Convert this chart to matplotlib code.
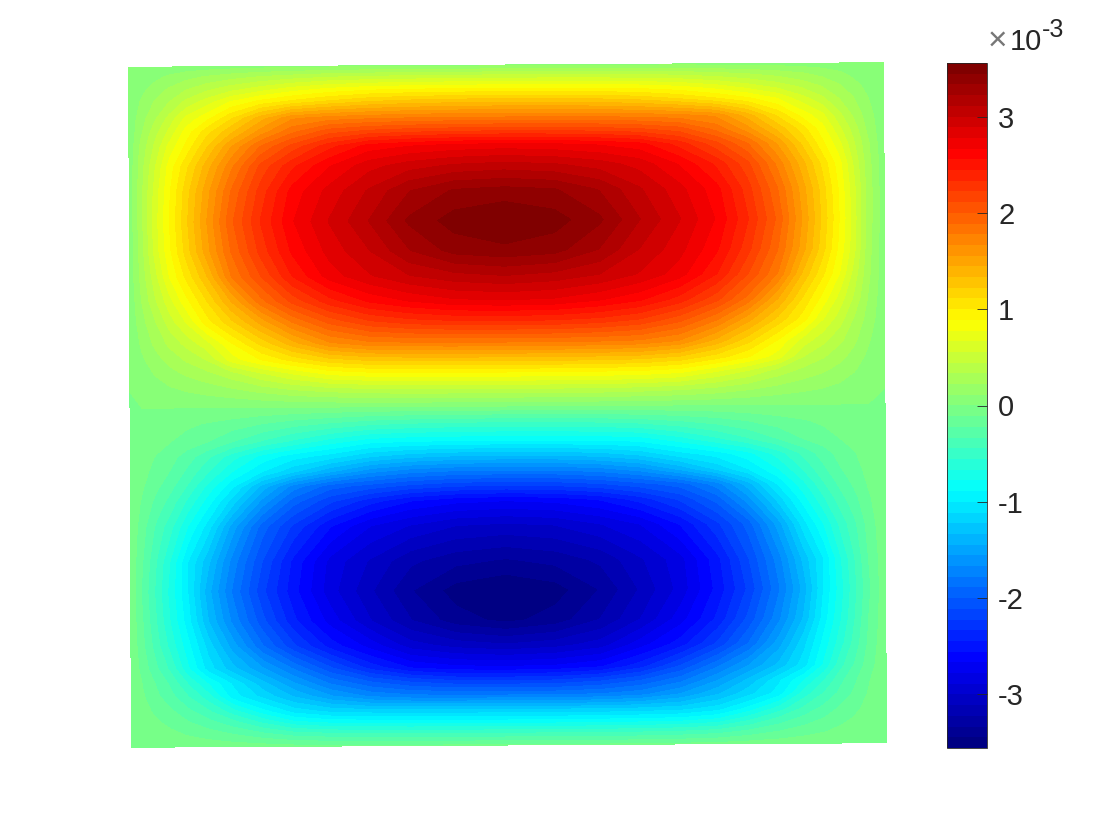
import numpy as np
import matplotlib
matplotlib.use('Agg')
import matplotlib.pyplot as plt
from matplotlib.colors import LinearSegmentedColormap

plt.rcParams['font.family'] = ['Liberation Sans', 'DejaVu Sans']
plt.rcParams['axes.unicode_minus'] = False

# 读图位置 (像素), 左半部分, 右半部分按中线对称
x_left = [130, 142, 156, 170, 187, 207, 232, 262, 293, 330, 370, 410, 455, 505]
x_right = [555, 600, 640, 680, 717, 748, 778, 803, 823, 840, 854, 868, 885]
y_top = [65, 75, 88, 100, 117, 130, 145, 165, 190, 220, 250, 275, 300, 320, 342, 358, 372, 390, 406]
y_bottom = [422, 440, 455, 470, 485, 500, 525, 560, 590, 620, 645, 667, 682, 695, 710, 720, 733, 745]

# 上半部分数值, 单位 1e-3
field_top = [
    [.00, .01, .02, .03, .04, .05, .06, .07, .07, .08, .08, .08, .08, .08],
    [.00, .04, .08, .13, .18, .23, .28, .33, .37, .41, .43, .44, .45, .45],
    [.01, .08, .16, .24, .33, .42, .52, .62, .72, .80, .85, .87, .88, .89],
    [.01, .12, .23, .33, .47, .60, .78, .92, 1.02, 1.12, 1.20, 1.24, 1.26, 1.27],
    [.02, .17, .32, .48, .70, .85, 1.10, 1.40, 1.65, 1.72, 1.75, 1.77, 1.78, 1.78],
    [.02, .20, .40, .58, .82, 1.05, 1.30, 1.60, 1.85, 2.05, 2.13, 2.17, 2.19, 2.20],
    [.02, .25, .47, .70, .92, 1.20, 1.55, 1.90, 2.15, 2.40, 2.60, 2.66, 2.70, 2.72],
    [.03, .28, .55, .82, 1.08, 1.38, 1.75, 2.15, 2.42, 2.66, 2.85, 2.95, 3.02, 3.05],
    [.03, .30, .60, .87, 1.17, 1.50, 1.90, 2.28, 2.60, 2.82, 3.02, 3.22, 3.35, 3.38],
    [.03, .30, .62, .89, 1.20, 1.55, 1.98, 2.35, 2.66, 2.90, 3.12, 3.36, 3.50, 3.56],
    [.03, .28, .60, .86, 1.16, 1.50, 1.90, 2.27, 2.58, 2.82, 3.00, 3.22, 3.38, 3.42],
    [.03, .26, .52, .78, 1.03, 1.32, 1.78, 2.12, 2.45, 2.72, 2.88, 3.00, 3.08, 3.12],
    [.02, .22, .43, .62, .85, 1.10, 1.45, 1.85, 2.15, 2.40, 2.58, 2.68, 2.76, 2.78],
    [.02, .18, .33, .50, .68, .95, 1.20, 1.50, 1.80, 2.05, 2.22, 2.30, 2.34, 2.35],
    [.01, .13, .25, .36, .48, .62, .88, 1.15, 1.40, 1.65, 1.75, 1.77, 1.78, 1.78],
    [.01, .09, .18, .26, .35, .45, .72, .90, 1.05, 1.20, 1.27, 1.29, 1.30, 1.30],
    [.01, .06, .12, .18, .24, .30, .40, .55, .68, .82, .87, .88, .89, .89],
    [.00, .03, .05, .08, .11, .14, .18, .24, .30, .35, .38, .40, .40, .40],
    [.00, .00, .00, .00, .00, .00, .00, .00, .00, .00, .00, .00, .00, .00],
]

# 下半部分数值, 单位 1e-3
field_bottom = [
    [.00, -.02, -.04, -.06, -.09, -.12, -.16, -.22, -.28, -.34, -.40, -.43, -.45, -.45],
    [.00, -.03, -.07, -.11, -.16, -.22, -.33, -.46, -.58, -.72, -.84, -.87, -.88, -.89],
    [-.01, -.06, -.12, -.18, -.28, -.42, -.62, -.82, -.95, -1.05, -1.20, -1.28, -1.32, -1.33],
    [-.01, -.08, -.15, -.23, -.36, -.54, -.78, -1.00, -1.20, -1.42, -1.62, -1.72, -1.77, -1.78],
    [-.01, -.10, -.20, -.30, -.46, -.70, -.98, -1.38, -1.72, -1.95, -2.05, -2.14, -2.20, -2.22],
    [-.02, -.13, -.26, -.38, -.58, -.83, -1.17, -1.60, -1.95, -2.20, -2.40, -2.55, -2.63, -2.66],
    [-.02, -.18, -.36, -.52, -.78, -1.05, -1.50, -1.95, -2.25, -2.55, -2.78, -2.90, -3.00, -3.03],
    [-.03, -.22, -.45, -.68, -1.00, -1.30, -1.72, -2.12, -2.48, -2.82, -3.02, -3.20, -3.30, -3.35],
    [-.03, -.25, -.48, -.72, -1.00, -1.40, -1.80, -2.20, -2.52, -2.85, -3.10, -3.33, -3.50, -3.56],
    [-.03, -.22, -.45, -.68, -.95, -1.32, -1.70, -2.08, -2.42, -2.72, -3.00, -3.22, -3.40, -3.48],
    [-.02, -.20, -.40, -.60, -.85, -1.15, -1.50, -1.88, -2.20, -2.50, -2.72, -2.95, -3.05, -3.10],
    [-.02, -.16, -.32, -.48, -.76, -1.05, -1.30, -1.55, -1.80, -2.10, -2.38, -2.57, -2.64, -2.66],
    [-.01, -.12, -.24, -.36, -.56, -.78, -1.02, -1.30, -1.55, -1.80, -1.98, -2.10, -2.17, -2.18],
    [-.01, -.10, -.20, -.30, -.44, -.62, -.95, -1.15, -1.35, -1.55, -1.70, -1.76, -1.78, -1.78],
    [-.01, -.07, -.14, -.20, -.30, -.42, -.62, -.85, -1.05, -1.15, -1.18, -1.20, -1.20, -1.20],
    [.00, -.05, -.10, -.15, -.22, -.30, -.42, -.60, -.78, -.85, -.87, -.88, -.89, -.89],
    [.00, -.03, -.05, -.08, -.12, -.16, -.22, -.30, -.38, -.42, -.44, -.45, -.45, -.45],
    [.00, -.01, -.02, -.02, -.03, -.04, -.05, -.06, -.08, -.09, -.10, -.10, -.10, -.10],
]

cbar_ticks = [-3, -2, -1, 0, 1, 2, 3]
vmin, vmax = -3.56, 3.56

# MATLAB 的 jet, 和 matplotlib 自带的拐点不一样
jet_stops = [(0, (0, 0, .5156)), (1 / 8, (0, 0, 1)), (3 / 8, (0, 1, 1)),
             (5 / 8, (1, 1, 0)), (7 / 8, (1, 0, 0)), (1, (.5, 0, 0))]
jet = LinearSegmentedColormap.from_list('matlab_jet', jet_stops, N=64)

W, H = 1120, 840
fig = plt.figure(figsize=(W / 100, H / 100), dpi=100)

ax = fig.add_axes([0, 0, 1, 1])
half = np.array(field_top + field_bottom)
z = np.hstack([half, half[:, -2::-1]])
X, Y = np.meshgrid(x_left + x_right, y_top + y_bottom)
# 图形有一点点倾斜
X2 = X + (Y - 405) * 0.004
Y2 = Y - (X - 507) * 0.006

levels = np.linspace(vmin, vmax, 65)
cf = ax.contourf(X2, Y2, z, levels=levels, cmap=jet, vmin=vmin, vmax=vmax)
ax.set_xlim(0, W)
ax.set_ylim(H, 0)
ax.axis('off')

cax = fig.add_axes([947 / W, 1 - 748 / H, 40 / W, 685 / H])
cb = fig.colorbar(cf, cax=cax, ticks=cbar_ticks)
cb.ax.tick_params(direction='in', length=7, width=0.6, labelsize=21, pad=8,
                  color='#262626', labelcolor='#262626')
cb.ax.set_yticklabels([str(t) for t in cbar_ticks])
cb.outline.set_linewidth(0.6)
cb.outline.set_edgecolor('#262626')
cb.ax.minorticks_off()

# 色标上方的倍率
fig.text(988 / W, 1 - 50 / H, '\u00d7', fontsize=24, color='#777777', ha='left', va='baseline')
fig.text(1010 / W, 1 - 50 / H, '10', fontsize=21, color='#262626', ha='left', va='baseline')
fig.text(1042 / W, 1 - 37 / H, '-3', fontsize=18, color='#262626', ha='left', va='baseline')

fig.savefig('out.png', dpi=100)
